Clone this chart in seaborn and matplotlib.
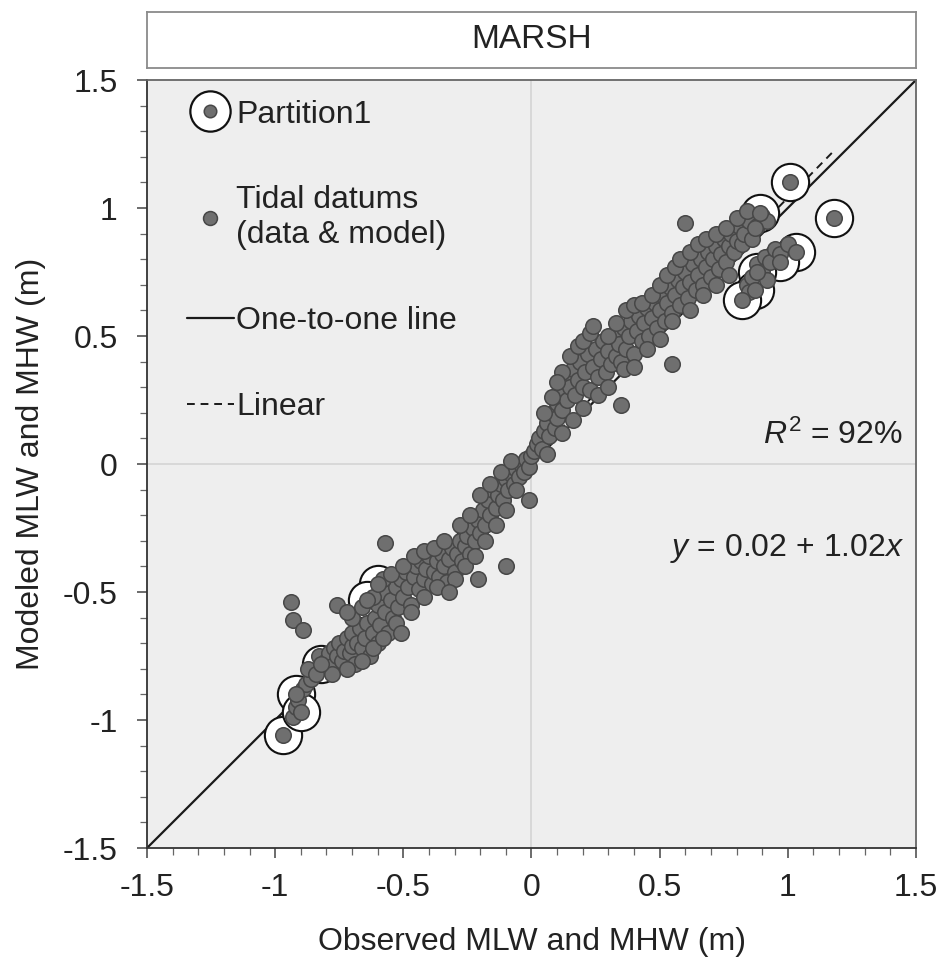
import numpy as np
import pandas as pd
import matplotlib
matplotlib.use("Agg")
import matplotlib.pyplot as plt
from matplotlib.lines import Line2D
from matplotlib.legend_handler import HandlerTuple
import seaborn as sns

# ---------------- data ----------------
# Mean Low Water points (observed, modeled)
mlw_obs = [-0.93, -0.92, -0.91, -0.89, -0.88, -0.86, -0.87, -0.84, -0.83, -0.80, -0.79, -0.78,
           -0.77, -0.76, -0.75, -0.74, -0.73, -0.72, -0.71, -0.70, -0.70, -0.69, -0.68, -0.67,
           -0.66, -0.65, -0.64, -0.63, -0.62, -0.61, -0.60, -0.60, -0.59, -0.58, -0.57, -0.56,
           -0.55, -0.54, -0.53, -0.52, -0.51, -0.50, -0.49, -0.48, -0.47, -0.46, -0.45, -0.44,
           -0.43, -0.42, -0.41, -0.40, -0.39, -0.38, -0.37, -0.36, -0.35, -0.34, -0.33, -0.32,
           -0.31, -0.30, -0.29, -0.28, -0.27, -0.26, -0.25, -0.24, -0.23, -0.22, -0.21, -0.20,
           -0.19, -0.18, -0.17, -0.16, -0.15, -0.14, -0.13, -0.12, -0.11, -0.10, -0.09, -0.08,
           -0.07, -0.06, -0.05, -0.04, -0.03, -0.02, -0.01, 0.00,
           -0.70, -0.66, -0.62, -0.58, -0.55, -0.50, -0.46, -0.42, -0.38, -0.34, -0.28, -0.24,
           -0.20, -0.16, -0.12, -0.08,
           -0.78, -0.72, -0.66, -0.62, -0.58, -0.53, -0.47, -0.42, -0.37, -0.30, -0.26, -0.22,
           -0.18, -0.14, -0.10, -0.06,
           -0.94, -0.93, -0.89, -0.76, -0.72, -0.57, -0.51, -0.32, -0.21, -0.10, -0.01]
mlw_mod = [-0.99, -0.95, -0.92, -0.88, -0.86, -0.84, -0.80, -0.82, -0.75, -0.77, -0.74, -0.79,
           -0.72, -0.75, -0.70, -0.77, -0.73, -0.68, -0.74, -0.71, -0.66, -0.78, -0.70, -0.64,
           -0.72, -0.68, -0.62, -0.75, -0.66, -0.60, -0.70, -0.55, -0.63, -0.50, -0.58, -0.66,
           -0.53, -0.60, -0.48, -0.56, -0.45, -0.52, -0.42, -0.48, -0.55, -0.44, -0.40, -0.49,
           -0.38, -0.45, -0.41, -0.36, -0.47, -0.42, -0.38, -0.44, -0.35, -0.40, -0.46, -0.37,
           -0.33, -0.42, -0.35, -0.30, -0.38, -0.32, -0.28, -0.35, -0.25, -0.30, -0.22, -0.27,
           -0.18, -0.24, -0.14, -0.20, -0.10, -0.17, -0.12, -0.08, -0.14, -0.06, -0.10, -0.04,
           -0.08, -0.02, -0.05, 0.00, -0.03, 0.02, -0.01, 0.03,
           -0.60, -0.56, -0.52, -0.45, -0.43, -0.40, -0.36, -0.34, -0.33, -0.30, -0.24, -0.20,
           -0.12, -0.08, -0.03, 0.01,
           -0.82, -0.80, -0.77, -0.72, -0.68, -0.62, -0.58, -0.52, -0.48, -0.45, -0.40, -0.36,
           -0.30, -0.24, -0.18, -0.10,
           -0.54, -0.61, -0.65, -0.55, -0.58, -0.31, -0.66, -0.50, -0.45, -0.40, -0.14]

# Mean High Water points (observed, modeled)
mhw_obs = [0.01, 0.02, 0.03, 0.04, 0.05, 0.06, 0.07, 0.08, 0.09, 0.10, 0.10, 0.11, 0.12, 0.13,
           0.14, 0.15, 0.16, 0.17, 0.18, 0.19, 0.20, 0.21, 0.22, 0.23, 0.24, 0.25, 0.26, 0.27,
           0.28, 0.29, 0.30, 0.31, 0.32, 0.33, 0.34, 0.35, 0.36, 0.37, 0.38, 0.39, 0.40, 0.41,
           0.42, 0.43, 0.44, 0.45, 0.46, 0.47, 0.48, 0.49, 0.50, 0.51, 0.52, 0.53, 0.54, 0.55,
           0.56, 0.57, 0.58, 0.59, 0.60, 0.61, 0.62, 0.63, 0.64, 0.65, 0.66, 0.67, 0.68, 0.69,
           0.70, 0.71, 0.72, 0.73, 0.74, 0.75, 0.76, 0.77, 0.78, 0.79, 0.80, 0.81, 0.82, 0.83,
           0.85, 0.86, 0.88, 0.90, 0.92,
           0.05, 0.08, 0.12, 0.15, 0.18, 0.10, 0.20, 0.30, 0.33, 0.37, 0.40, 0.43, 0.47, 0.50,
           0.53, 0.56, 0.58, 0.62, 0.65, 0.68, 0.72, 0.76, 0.80, 0.84, 0.87,
           0.06, 0.12, 0.16, 0.20, 0.26, 0.30, 0.36, 0.40, 0.45, 0.50, 0.55, 0.62, 0.67, 0.72,
           0.77,
           0.84, 0.86, 0.88, 0.90, 0.91, 0.93, 0.95, 0.97, 1.00, 0.92, 0.85,
           0.60, 0.23, 0.24, 0.55, 0.35]
mhw_mod = [0.05, 0.08, 0.10, 0.06, 0.13, 0.16, 0.11, 0.20, 0.14, 0.24, 0.18, 0.28, 0.21, 0.33,
           0.25, 0.30, 0.37, 0.27, 0.33, 0.40, 0.30, 0.36, 0.43, 0.29, 0.38, 0.45, 0.34, 0.41,
           0.48, 0.36, 0.44, 0.39, 0.50, 0.42, 0.47, 0.40, 0.53, 0.45, 0.50, 0.56, 0.43, 0.52,
           0.58, 0.48, 0.55, 0.61, 0.50, 0.57, 0.63, 0.53, 0.60, 0.66, 0.56, 0.63, 0.69, 0.59,
           0.66, 0.72, 0.62, 0.69, 0.75, 0.65, 0.71, 0.78, 0.68, 0.74, 0.80, 0.70, 0.77, 0.83,
           0.73, 0.80, 0.85, 0.76, 0.82, 0.88, 0.79, 0.85, 0.90, 0.83, 0.87, 0.93, 0.86, 0.90,
           0.95, 0.88, 0.93, 0.97, 0.95,
           0.20, 0.26, 0.36, 0.42, 0.46, 0.32, 0.48, 0.50, 0.55, 0.60, 0.62, 0.63, 0.66, 0.70,
           0.74, 0.77, 0.80, 0.83, 0.86, 0.88, 0.90, 0.92, 0.96, 0.99, 0.92,
           0.04, 0.12, 0.17, 0.22, 0.27, 0.30, 0.37, 0.38, 0.45, 0.49, 0.56, 0.60, 0.66, 0.70,
           0.74,
           0.70, 0.73, 0.78, 0.75, 0.81, 0.79, 0.84, 0.82, 0.86, 0.72, 0.67,
           0.94, 0.51, 0.54, 0.39, 0.23]

# Partition1 points (circled)
part_obs = [-0.97, -0.92, -0.90, -0.82, -0.60, -0.64, 1.01, 1.18, 0.89, 1.03, 0.97, 0.88, 0.87, 0.82]
part_mod = [-1.06, -0.90, -0.97, -0.78, -0.47, -0.53, 1.10, 0.96, 0.98, 0.83, 0.79, 0.75, 0.68, 0.64]

# Linear fit reported on the chart
fit_intercept = 0.02
fit_slope = 1.02
r2_text = "92%"

panel_title = "MARSH"
x_label = "Observed MLW and MHW (m)"
y_label = "Modeled MLW and MHW (m)"
tick_vals = [-1.5, -1, -0.5, 0, 0.5, 1, 1.5]
tick_labels = ["-1.5", "-1", "-0.5", "0", "0.5", "1", "1.5"]

# ---------------- style ----------------
sns.set_theme(style="ticks")
plt.rcParams["font.family"] = ["Liberation Sans", "DejaVu Sans"]
plt.rcParams["mathtext.fontset"] = "custom"
plt.rcParams["mathtext.rm"] = "Liberation Sans"
plt.rcParams["mathtext.it"] = "Liberation Sans:italic"

FS = 23
TICK_FS = 23
dot_face = "#6f6f6f"
dot_edge = "#474747"
txt_col = "#222222"

fig = plt.figure(figsize=(9.47, 9.61), dpi=100)
ax = fig.add_axes([147 / 947, 1 - 848 / 961, (916 - 147) / 947, (848 - 80) / 961])
ax.set_facecolor("#eeeeee")

ax.axhline(0, color="#d6d6d6", lw=1.3, zorder=0.5)
ax.axvline(0, color="#d6d6d6", lw=1.3, zorder=0.5)

# one-to-one line
ax.plot([-1.5, 1.5], [-1.5, 1.5], color="#1a1a1a", lw=1.6, zorder=1.5)

# linear fit
all_obs = np.array(mlw_obs + mhw_obs + part_obs)
xf = np.array([all_obs.min(), all_obs.max()])
ax.plot(xf, fit_intercept + fit_slope * xf, color="#1a1a1a", lw=1.4,
        ls=(0, (4, 3)), zorder=1.6)

# partition rings
sns.scatterplot(x=part_obs, y=part_mod, s=720, color="white", edgecolor="#111111",
                linewidth=1.5, zorder=2, ax=ax, legend=False)

# all tidal datums
df = pd.DataFrame({"obs": mlw_obs + mhw_obs + part_obs,
                   "mod": mlw_mod + mhw_mod + part_mod})
sns.scatterplot(data=df, x="obs", y="mod", s=125, color=dot_face, edgecolor=dot_edge,
                linewidth=1.1, zorder=3, ax=ax, legend=False)

ax.set_xlim(-1.5, 1.5)
ax.set_ylim(-1.5, 1.5)
ax.set_xticks(tick_vals)
ax.set_xticklabels(tick_labels)
ax.set_yticks(tick_vals)
ax.set_yticklabels(tick_labels)
ax.set_xticks(np.arange(-1.5, 1.51, 0.1), minor=True)
ax.set_yticks(np.arange(-1.5, 1.51, 0.1), minor=True)
ax.tick_params(axis="both", which="major", direction="out", length=7, width=1.1,
               color="#444444", labelsize=TICK_FS, labelcolor=txt_col)
ax.tick_params(axis="x", which="major", pad=11)
ax.tick_params(axis="y", which="major", pad=14)
ax.tick_params(axis="both", which="minor", direction="out", length=5, width=0.9,
               color="#666666")
for side in ["left", "bottom"]:
    ax.spines[side].set_color("#333333")
    ax.spines[side].set_linewidth(1.3)
for side in ["top", "right"]:
    ax.spines[side].set_visible(True)
    ax.spines[side].set_color("#666666")
    ax.spines[side].set_linewidth(1.3)

ax.set_xlabel(x_label, fontsize=FS, labelpad=17, color=txt_col)
ax.set_ylabel(y_label, fontsize=FS, labelpad=12, color=txt_col)

# annotations
ax.text(1.45, 0.11, r"$R^2$ = " + r2_text, fontsize=FS, ha="right", va="center", color=txt_col)
ax.text(1.455, -0.33,
        r"$y$ = " + f"{fit_intercept:.2f} + {fit_slope:.2f}" + r"$x$",
        fontsize=FS, ha="right", va="center", color=txt_col)

# legend
h_part = (Line2D([], [], ls="none", marker="o", markersize=29, markerfacecolor="white",
                 markeredgecolor="#111111", markeredgewidth=1.6),
          Line2D([], [], ls="none", marker="o", markersize=9, markerfacecolor=dot_face,
                 markeredgecolor=dot_edge, markeredgewidth=1.1))
h_dot = Line2D([], [], ls="none", marker="o", markersize=10, markerfacecolor=dot_face,
               markeredgecolor=dot_edge, markeredgewidth=1.1)
h_one = Line2D([], [], color="#1a1a1a", lw=1.6)
h_lin = Line2D([], [], color="#1a1a1a", lw=1.4, ls=(0, (4, 3)))
leg = ax.legend([h_part, h_dot, h_one, h_lin],
                ["Partition1", "Tidal datums\n(data & model)", "One-to-one line", "Linear"],
                handler_map={tuple: HandlerTuple(ndivide=1)},
                loc="upper left", bbox_to_anchor=(0.014, 1.012), frameon=False,
                fontsize=FS, handlelength=1.5, handletextpad=0.05, labelspacing=1.75)
for t in leg.get_texts():
    t.set_color(txt_col)

# panel strip
sax = fig.add_axes([147 / 947, 1 - 68 / 961, (916 - 147) / 947, (68 - 12) / 961])
sax.set_facecolor("white")
sax.set_xticks([])
sax.set_yticks([])
for sp in sax.spines.values():
    sp.set_color("#8a8a8a")
    sp.set_linewidth(1.3)
sax.text(0.5, 0.5, panel_title, fontsize=FS + 1, ha="center", va="center",
         transform=sax.transAxes, color=txt_col)

fig.savefig("out.png", dpi=100, facecolor="white")
